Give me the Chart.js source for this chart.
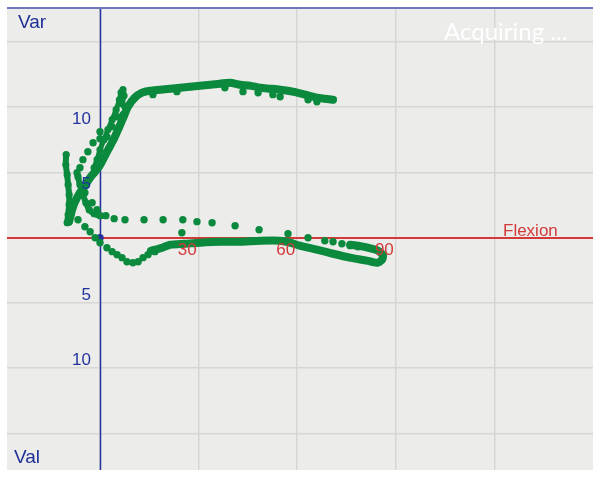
<!DOCTYPE html>
<html lang="en">
<head>
    <meta charset="UTF-8">
    <title>Var / Val vs Flexion</title>
    <script src="https://cdn.jsdelivr.net/npm/chart.js"></script>
    <style>
        body { margin: 0; background: #fff; }
    </style>
    <script>
        // axis grid (degrees of flexion / degrees of var-val)
        const xGrid = [0, 30, 60, 90, 120];
        const yGrid = [-15, -10, -5, 0, 5, 10, 15];
        const xLabels = [30, 60, 90];
        const yLabels = [10, 5, -5, -10];

        // traced samples [flexion, varVal]
        const upperCurve = [[70.9,10.57],[68.4,10.65],[66.0,10.73],[62.4,10.96],[58.7,11.19],[54.8,11.34],[51.7,11.42],[48.7,11.49],[45.6,11.65],[42.6,11.72],[39.5,11.88],[36.5,11.80],[33.5,11.72],[30.4,11.65],[27.4,11.57],[24.3,11.49],[21.3,11.42],[18.3,11.34],[15.2,11.26],[12.8,11.11],[10.6,10.73],[8.5,10.04],[7.2,9.27],[5.9,8.51],[4.4,7.66],[2.8,6.90],[1.2,6.13],[-0.1,5.52],[-1.5,5.06],[-3.0,4.60],[-4.6,3.98],[-6.1,3.45],[-7.3,2.91],[-8.2,2.38],[-8.8,1.84],[-9.4,1.23]];
        const spikeLine = [[-1.8,5.36],[-0.9,5.98],[0,6.74],[1.2,7.51],[2.4,8.28],[3.7,9.04],[4.9,9.81],[5.9,10.57],[6.4,11.11],[7.0,11.34],[7.3,10.88],[6.7,10.27]];
        const leftStroke = [[-10.3,6.36],[-10.4,5.59],[-10.0,4.83],[-9.7,4.06],[-9.4,3.30],[-9.4,2.53],[-9.7,1.76],[-10.0,1.15]];
        const kStroke = [[-7.0,4.98],[-6.1,4.06],[-5.2,3.30],[-4.3,2.68],[-3.3,2.15],[-1.8,1.84],[0,1.69],[1.8,1.69]];
        const lowerLoop = [[15.5,-1.0],[18.9,-0.77],[21.3,-0.54],[25.9,-0.46],[30.4,-0.38],[36.5,-0.31],[42.6,-0.31],[48.7,-0.23],[54.8,-0.23],[57.8,-0.38],[60.8,-0.61],[66.0,-0.92],[70.9,-1.23],[76.1,-1.53],[81.2,-1.76],[84.3,-1.92],[85.8,-1.69],[86.1,-1.38],[84.6,-1.00],[81.5,-0.77],[78.5,-0.61],[76.1,-0.54]];
        const returnDots = [[-6.7,1.38],[-4.6,0.84],[-3.0,0.46],[-1.5,0],[0,-0.38],[2.1,-0.77],[3.7,-1.07],[5.2,-1.30],[6.7,-1.53],[8.2,-1.84],[10.0,-1.92],[11.6,-1.84],[13.1,-1.53],[14.6,-1.30],[16.7,-1.07]];
        const flexDots = [[4.3,1.46],[7.6,1.38],[13.4,1.38],[19.2,1.38],[25.2,1.38],[29.5,1.23],[34.1,1.15],[41.1,0.92],[48.4,0.61],[57.2,0.31],[63.3,0],[68.4,-0.23],[70.9,-0.31],[73.6,-0.46],[76.1,-0.61],[78.5,-0.69],[24.9,0.38]];
        const leftDots = [[0,8.12],[0,7.59],[-2.1,7.28],[-3.7,6.59],[-5.2,5.98],[-6.1,5.36],[-6.7,4.67],[2.1,7.74],[3.7,8.51],[5.2,9.27],[7.0,9.43],[7.6,10.04],[-4.6,3.45],[-2.4,2.68],[-0.9,2.15]];
        const bumpDots = [[38.0,11.49],[43.5,11.19],[48.1,11.11],[52.6,10.96],[54.8,10.80],[63.3,10.57],[66.0,10.42],[16.1,10.96],[23.4,11.19]];
        const cursor = [[0, 0]];

        const GREEN = "#0b8a3e";
        const BLUE = "#24339e";
        const RED = "#d23a3a";
        const GRID = "#d6d6d4";

        const toPts = arr => arr.map(p => ({ x: p[0], y: p[1] }));

        function band(arr, width) {
            return {
                data: toPts(arr), showLine: true, borderColor: GREEN, borderWidth: width || 8,
                borderCapStyle: "round", borderJoinStyle: "round", tension: 0.25,
                pointRadius: 3.6, pointBackgroundColor: GREEN, pointBorderWidth: 0
            };
        }
        function dots(arr, color) {
            return {
                data: toPts(arr), showLine: false,
                pointRadius: 3.7, pointBackgroundColor: color || GREEN, pointBorderWidth: 0
            };
        }

        const framePlugin = {
            id: "frame",
            beforeDraw(chart) {
                const { ctx, chartArea: a } = chart;
                ctx.save();
                ctx.fillStyle = "#ececea";
                ctx.fillRect(a.left, a.top, a.right - a.left, a.bottom - a.top);
                ctx.restore();
            },
            beforeDatasetsDraw(chart) {
                const { ctx, chartArea: a, scales } = chart;
                const x0 = Math.round(scales.x.getPixelForValue(0)) + 0.5;
                const y0 = Math.round(scales.y.getPixelForValue(0));
                ctx.save();
                ctx.strokeStyle = RED;
                ctx.lineWidth = 2;
                ctx.beginPath();
                ctx.moveTo(a.left, y0);
                ctx.lineTo(a.right, y0);
                ctx.stroke();
                ctx.strokeStyle = BLUE;
                ctx.lineWidth = 1.5;
                ctx.beginPath();
                ctx.moveTo(x0, a.top);
                ctx.lineTo(x0, a.bottom);
                ctx.stroke();
                ctx.restore();
            },
            afterDraw(chart) {
                const { ctx, chartArea: a, scales } = chart;
                const x0 = scales.x.getPixelForValue(0);
                const y0 = scales.y.getPixelForValue(0);
                ctx.save();
                // top border
                ctx.strokeStyle = "#6f78bd";
                ctx.lineWidth = 2;
                ctx.beginPath();
                ctx.moveTo(a.left, a.top);
                ctx.lineTo(a.right, a.top);
                ctx.stroke();

                // tick labels
                ctx.font = "17px 'Liberation Sans', Arial, sans-serif";
                ctx.fillStyle = RED;
                ctx.textAlign = "right";
                ctx.textBaseline = "alphabetic";
                xLabels.forEach(v => {
                    ctx.fillText(String(v), scales.x.getPixelForValue(v) - 2, y0 + 17);
                });
                ctx.fillStyle = BLUE;
                yLabels.forEach(v => {
                    const py = scales.y.getPixelForValue(v);
                    ctx.fillText(String(Math.abs(v)), x0 - 9, v > 0 ? py + 16.5 : py - 3);
                });

                // axis names
                ctx.textAlign = "left";
                ctx.font = "19px 'Liberation Sans', Arial, sans-serif";
                ctx.fillStyle = "#1e2f96";
                ctx.fillText("Var", 18, 28);
                ctx.fillText("Val", 14, 463);
                ctx.font = "17px 'Liberation Sans', Arial, sans-serif";
                ctx.fillStyle = RED;
                ctx.fillText("Flexion", 503, 236);
                ctx.font = "24px Lato, 'Open Sans', sans-serif";
                ctx.fillStyle = "#ffffff";
                ctx.fillText("Acquiring ...", 444, 40);
                ctx.restore();
            }
        };

        document.addEventListener("DOMContentLoaded", function () {
            const ctx = document.getElementById("kneeChart").getContext("2d");
            new Chart(ctx, {
                type: "scatter",
                data: {
                    datasets: [
                        band(upperCurve),
                        band(spikeLine, 5),
                        band(leftStroke, 6),
                        band(kStroke, 6),
                        band(lowerLoop),
                        dots(returnDots),
                        dots(flexDots),
                        dots(leftDots),
                        dots(bumpDots),
                        dots(cursor, BLUE)
                    ]
                },
                options: {
                    responsive: false,
                    animation: false,
                    layout: { padding: { left: 7, top: 8, right: 7, bottom: 8 } },
                    plugins: { legend: { display: false }, tooltip: { enabled: false } },
                    scales: {
                        x: {
                            type: "linear", min: -28.3, max: 150,
                            afterBuildTicks: s => { s.ticks = xGrid.map(v => ({ value: v })); },
                            ticks: { display: false },
                            border: { display: false },
                            grid: { drawTicks: false, color: GRID, lineWidth: 1.5 }
                        },
                        y: {
                            type: "linear", min: -17.8, max: 17.6,
                            afterBuildTicks: s => { s.ticks = yGrid.map(v => ({ value: v })); },
                            ticks: { display: false },
                            border: { display: false },
                            grid: { drawTicks: false, color: GRID, lineWidth: 1.5 }
                        }
                    }
                },
                plugins: [framePlugin]
            });
        });
    </script>
</head>
<body>
    <canvas id="kneeChart" width="600" height="478"></canvas>
</body>
</html>
